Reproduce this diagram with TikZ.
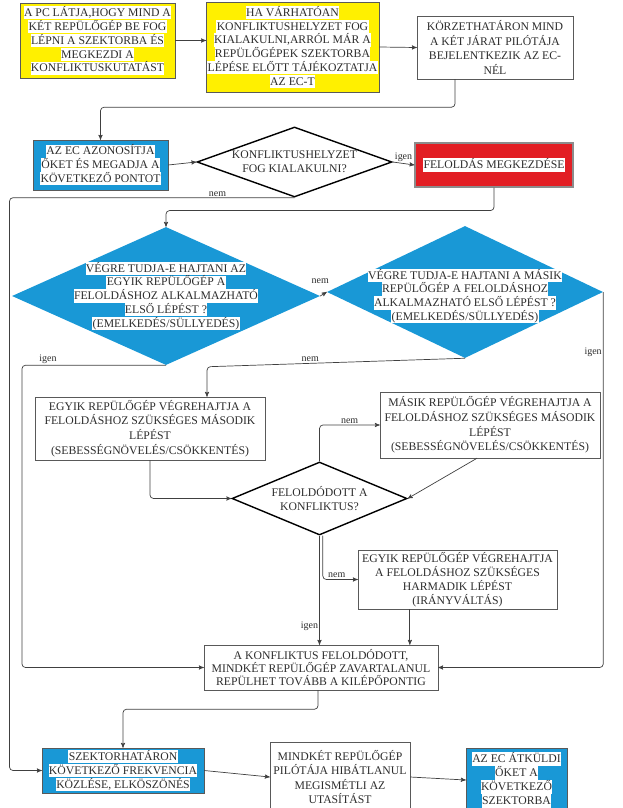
\documentclass[tikz,border=0pt]{standalone}
\usepackage{fontspec}
\setmainfont{Liberation Serif}
\usetikzlibrary{arrows,shapes.geometric}

\definecolor{yellowbg}{RGB}{255,240,0}
\definecolor{bluebg}{RGB}{25,152,214}
\definecolor{redbg}{RGB}{226,30,36}
\definecolor{txt}{RGB}{45,45,45}
\setlength\fboxsep{0.3pt}
\newcommand\hl[1]{\colorbox{white}{\vphantom{ÉÁp}#1}}
\newcommand\boxfont{\fontsize{10}{11.8}\selectfont\lineskiplimit=-20pt\relax}
\newcommand\lowfont{\fontsize{10}{12}\selectfont\lineskiplimit=-20pt\relax}

\begin{document}
\begin{tikzpicture}[
  >=stealth',
  x=0.03cm, y=-0.03cm,
  box/.style={draw=black!65,fill=white,align=center,inner sep=1pt,font=\boxfont,text=txt},
  ybox/.style={box,fill=yellowbg},
  bbox/.style={box,fill=bluebg},
  rbox/.style={box,fill=redbg,draw=black!45,line width=1pt},
  dia/.style={diamond,draw=black,line width=1.2pt,fill=white,inner sep=0pt},
  bdia/.style={diamond,fill=bluebg,inner sep=0pt},
  dtext/.style={font=\boxfont,align=center,text=txt},
  con/.style={->,draw=black!75,line width=0.6pt,rounded corners=3pt},
  lab/.style={font=\fontsize{8.5}{9}\selectfont,text=txt,inner sep=1pt}
  ]

  \useasboundingbox (0,0) rectangle (623,808);

  % top row
  \node [ybox, minimum width=4.65cm, minimum height=2.25cm] (pc) at (97.5, 40.5)
    {\hl{A PC LÁTJA,HOGY MIND A}\\\hl{KÉT REPÜLŐGÉP BE FOG}\\\hl{LÉPNI A SZEKTORBA ÉS}\\\hl{MEGKEZDI A}\\\hl{KONFLIKTUSKUTATÁST}};
  \node [ybox, minimum width=4.83cm, minimum height=2.7cm] (ecinfo) at (292.5, 47)
    {\hl{HA VÁRHATÓAN}\\\hl{KONFLIKTUSHELYZET FOG}\\\hl{KIALAKULNI,ARRÓL MÁR A}\\\hl{REPÜLŐGÉPEK SZEKTORBA}\\\hl{LÉPÉSE ELŐTT TÁJÉKOZTATJA}\\\hl{AZ EC-T}};
  \node [box, minimum width=4.68cm, minimum height=1.89cm,
    font=\fontsize{10}{12.4}\selectfont] (pilots) at (495, 47.5)
    {KÖRZETHATÁRON MIND\\A KÉT JÁRAT PILÓTÁJA\\BEJELENTKEZIK AZ EC-\\NÉL};

  % first decision
  \node [bbox, minimum width=4.05cm, minimum height=1.5cm] (ecid) at (100.5, 165)
    {\hl{AZ EC AZONOSÍTJA}\\\hl{ŐKET ÉS MEGADJA A}\\\hl{KÖVETKEZŐ PONTOT}};
  \node [dia, minimum width=5.85cm, minimum height=2.1cm,
    label={[dtext]center:{KONFLIKTUSHELYZET\\FOG KIALAKULNI?}}] (conflict) at (294.5, 162) {};
  \node [rbox, minimum width=4.74cm, minimum height=1.32cm] (resolve) at (494, 165)
    {\hl{FELOLDÁS MEGKEZDÉSE}};

  % first step
  \node [bdia, minimum width=9.24cm, minimum height=4.14cm,
    label={[dtext]center:{\hl{VÉGRE TUDJA-E HAJTANI AZ}\\\hl{EGYIK REPÜLŐGÉP A}\\\hl{FELOLDÁSHOZ ALKALMAZHATÓ}\\\hl{ELSŐ LÉPÉST ?}\\\hl{(EMELKEDÉS/SÜLLYEDÉS)}}}] (firsta) at (166, 296) {};
  \node [bdia, minimum width=8.28cm, minimum height=3.96cm,
    label={[dtext,yshift=-0.12cm]center:{\hl{VÉGRE TUDJA-E HAJTANI A MÁSIK}\\\hl{REPÜLŐGÉP A FELOLDÁSHOZ}\\\hl{ALKALMAZHATÓ ELSŐ LÉPÉST ?}\\\hl{(EMELKEDÉS/SÜLLYEDÉS)}}}] (firstb) at (465, 292) {};

  % second and third step
  \node [box, minimum width=6.9cm, minimum height=1.89cm,
    font=\fontsize{10}{12.6}\selectfont] (seconda) at (150, 428.5)
    {EGYIK REPÜLŐGÉP VÉGREHAJTJA A\\FELOLDÁSHOZ SZÜKSÉGES MÁSODIK\\LÉPÉST\\(SEBESSÉGNÖVELÉS/CSÖKKENTÉS)};
  \node [box, minimum width=6.6cm, minimum height=1.98cm,
    font=\fontsize{10}{12.6}\selectfont] (secondb) at (490, 425)
    {MÁSIK REPÜLŐGÉP VÉGREHAJTJA A\\FELOLDÁSHOZ SZÜKSÉGES MÁSODIK\\LÉPÉST\\(SEBESSÉGNÖVELÉS/CSÖKKENTÉS)};
  \node [dia, minimum width=5.25cm, minimum height=2.19cm,
    label={[dtext]center:{FELOLDÓDOTT A\\KONFLIKTUS?}}] (check) at (319.5, 498.5) {};
  \node [box, minimum width=5.97cm, minimum height=1.77cm] (third) at (457.5, 579.5)
    {EGYIK REPÜLŐGÉP VÉGREHAJTJA\\A FELOLDÁSHOZ SZÜKSÉGES\\HARMADIK LÉPÉST\\(IRÁNYVÁLTÁS)};
  \node [box, minimum width=7.02cm, minimum height=1.35cm,
    font=\fontsize{10}{11.2}\selectfont] (done) at (321, 667.5)
    {A KONFLIKTUS FELOLDÓDOTT,\\MINDKÉT REPÜLŐGÉP ZAVARTALANUL\\REPÜLHET TOVÁBB A KILÉPŐPONTIG};

  % bottom row
  \node [bbox, minimum width=4.86cm, minimum height=1.35cm, font=\lowfont] (handoff) at (123, 770.5)
    {\hl{SZEKTORHATÁRON}\\\hl{KÖVETKEZŐ FREKVENCIA}\\\hl{KÖZLÉSE, ELKÖSZÖNÉS}};
  \node [box, minimum width=4.2cm, minimum height=2.1cm, font=\lowfont] (readback) at (340, 777)
    {MINDKÉT REPÜLŐGÉP\\PILÓTÁJA HIBÁTLANUL\\MEGISMÉTLI AZ\\UTASÍTÁST};
  \node [bbox, minimum width=3.03cm, minimum height=1.92cm, font=\lowfont] (transfer) at (516.5, 780)
    {\hl{AZ EC ÁTKÜLDI}\\\hl{ŐKET A}\\\hl{KÖVETKEZŐ}\\\hl{SZEKTORBA}};

  % connectors
  \draw [con] (pc.east) -- (ecinfo.west |- pc.east);
  \draw [con] (ecinfo.east) -- (pilots.west);
  \draw [con] ([xshift=-1.2cm]pilots.south) -- ++(0,28) -| (ecid.north);
  \draw [con] (ecid.east) -- (conflict.west);
  \draw [con] (conflict.east) -- node [lab,above] {igen} (resolve.west);
  \draw [con] (conflict.south) -- node [lab,above,pos=0.27] {nem} ++(-285,0) |- (handoff.west);
  \draw [con] (resolve.south) -- ++(0,23) -| (firsta.north);
  \draw [con] (firsta.east) -- node [lab,above=9pt,pos=0] {nem} (firstb.west);
  \draw [con] (firsta.south) -- node [lab,above,pos=0.82] {igen} ++(-144,0) |- (done.west);
  \coordinate (c2) at ([xshift=1.71cm,yshift=0.9cm]seconda.north);
  \draw [con] (firstb.south) -- node [lab,above,pos=0.6] {nem} (c2) -- (c2 |- seconda.north);
  \draw [con] (firstb.east) |- node [lab,left,pos=0.08] {igen} (done.east);
  \draw [con] (seconda.south) |- (check.west);
  \draw [con] ([xshift=-0.39cm]secondb.south) -- (check.east);
  \draw [con] (check.north) |- node [lab,above,pos=0.75] {nem} (secondb.west);
  \draw [con] (check.south) -- node [lab,left,pos=0.83] {igen} (check.south |- done.north);
  \draw [con] ([xshift=0.1cm]check.south) |- node [lab,above,pos=0.7] {nem} (third.west);
  \coordinate (c7) at ([xshift=-1.43cm]third.south);
  \draw [con] (c7) -- (c7 |- done.north);
  \draw [con] ([xshift=-0.09cm]done.south) -- ++(0,19) -| (handoff.north);
  \draw [con] (handoff.east) -- (readback.west);
  \draw [con] (readback.east) -- (transfer.west);

\end{tikzpicture}
\end{document}
